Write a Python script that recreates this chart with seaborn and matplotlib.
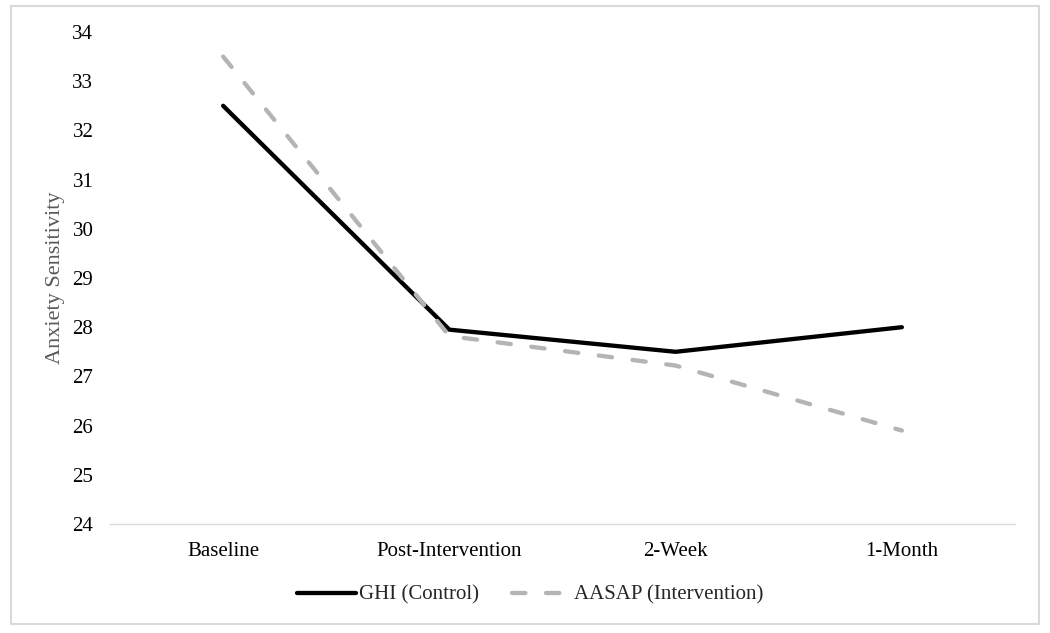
import matplotlib
matplotlib.use("Agg")
import matplotlib.pyplot as plt
from matplotlib.lines import Line2D
from matplotlib.patches import Rectangle
import pandas as pd
import seaborn as sns

timepoints = ['Baseline', 'Post-Intervention', '2-Week', '1-Month']
ghi_control = [32.5, 27.95, 27.5, 28.0]
aasap_intervention = [33.5, 27.82, 27.22, 25.9]

df = pd.DataFrame({'Time': timepoints, 'GHI': ghi_control, 'AASAP': aasap_intervention})

sns.set_style('white')
plt.rcParams['font.family'] = ['Liberation Serif', 'DejaVu Serif']

fig = plt.figure(figsize=(10.5, 6.33), dpi=100)
ax = fig.add_axes([110 / 1050, 1 - 524 / 633, 905 / 1050, 492 / 633])

dash = [3.1, 4.8]
sns.lineplot(data=df, x='Time', y='GHI', ax=ax, color='black', linewidth=3.1,
             solid_capstyle='round', sort=False)
sns.lineplot(data=df, x='Time', y='AASAP', ax=ax, color='#b4b4b4', linewidth=3.1,
             dashes=False, sort=False)
ax.lines[1].set_dashes(dash)
ax.lines[1].set_dash_capstyle('round')

ax.set_xlim(-0.5, 3.5)
ax.set_ylim(24, 34)
ax.set_yticks(range(24, 35))
ax.set_xlabel('')
ax.set_ylabel('Anxiety Sensitivity', fontsize=16, color='#595959', labelpad=5)
ax.tick_params(axis='both', labelsize=15, colors='black', length=0)
ax.tick_params(axis='y', pad=12)
ax.tick_params(axis='x', pad=13)
for s in ['top', 'right', 'left']:
    ax.spines[s].set_visible(False)
ax.spines['bottom'].set_color('#d9d9d9')
ax.spines['bottom'].set_linewidth(1)

handles = [
    Line2D([], [], color='black', linewidth=3.1, solid_capstyle='round'),
    Line2D([], [], color='#b4b4b4', linewidth=3.1, dashes=dash, dash_capstyle='round'),
]
fig.legend(handles, ['GHI (Control)', 'AASAP (Intervention)'], loc='center',
           bbox_to_anchor=(0.505, 1 - 595 / 633), ncol=2, frameon=False,
           fontsize=15, handlelength=2.8, handletextpad=0.15, columnspacing=1.6)

fig.add_artist(Rectangle((11 / 1050, 1 - 624 / 633), 1028 / 1050, 618 / 633,
                         transform=fig.transFigure, fill=False,
                         edgecolor='#d9d9d9', linewidth=1.5))

fig.savefig('out.png', dpi=100)
